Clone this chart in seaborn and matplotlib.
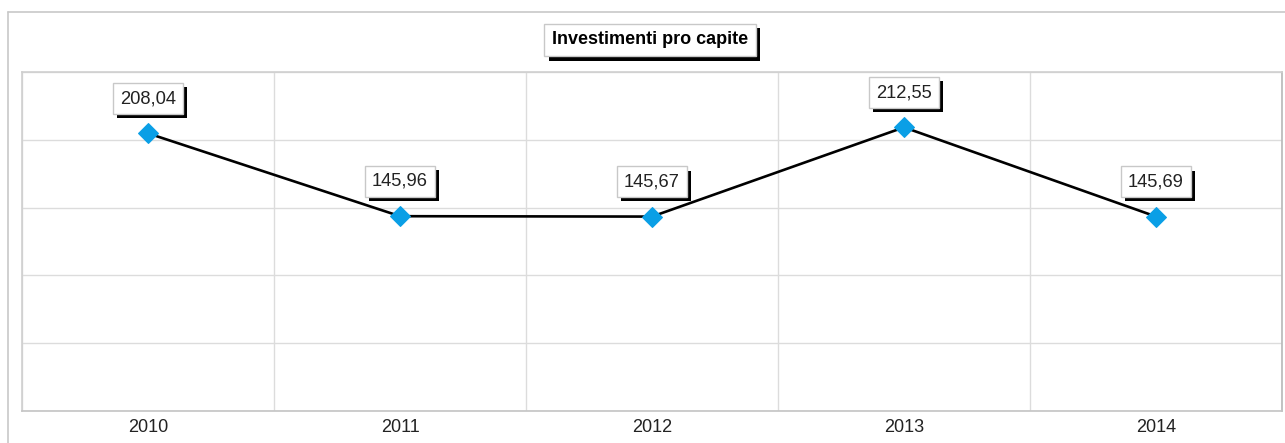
import matplotlib
matplotlib.use("Agg")
import matplotlib.pyplot as plt
from matplotlib.lines import Line2D
from matplotlib.ticker import FixedLocator
import matplotlib.patheffects as pe
import seaborn as sns
import pandas as pd

# data
years = ["2010", "2011", "2012", "2013", "2014"]
values = [208.04, 145.96, 145.67, 212.55, 145.69]
title = "Investimenti pro capite"

W, H = 1285, 443
sns.set_style("white")
plt.rcParams['font.family'] = ['Liberation Sans', 'DejaVu Sans']

df = pd.DataFrame({"anno": years, "valore": values})

fig = plt.figure(figsize=(W / 100, H / 100), dpi=100)
ax = fig.add_axes([22 / W, (H - 411) / H, 1260 / W, 339 / H])

grid_col = "#dcdcdc"
sns.lineplot(data=df, x="anno", y="valore", ax=ax, color="black", linewidth=1.9,
             marker="D", markersize=10, markerfacecolor="#0A9FE6",
             markeredgecolor="#0A9FE6", zorder=3)

ymax = 254
ax.set_xlim(-0.5, len(years) - 0.5)
ax.set_ylim(0, ymax)
ax.set_yticks([ymax * k / 5 for k in range(6)])
ax.set_yticklabels([])
ax.tick_params(axis='y', length=0)
ax.xaxis.set_minor_locator(FixedLocator([i - 0.5 for i in range(len(years) + 1)]))
ax.tick_params(axis='x', which='major', length=0, pad=6, labelsize=13, colors="#222222")
ax.tick_params(axis='x', which='minor', length=11.5, width=1, color=grid_col, direction='out')
ax.grid(True, axis='y', which='major', color=grid_col, linewidth=1)
ax.grid(True, axis='x', which='minor', color=grid_col, linewidth=1)
ax.set_xlabel("")
ax.set_ylabel("")
for side in ['left', 'top']:
    ax.spines[side].set_color("#cfcfcf")
ax.spines['right'].set_color("#b8b8b8")
ax.spines['bottom'].set_color("#c4c4c4")
for sp in ax.spines.values():
    sp.set_linewidth(1.2)


def shadow_box(t, off):
    # white box with a solid black drop shadow, like the original
    t.get_bbox_patch().set_path_effects([
        pe.SimplePatchShadow(offset=(off, -off), shadow_rgbFace="black", alpha=1),
        pe.Normal()])


# value labels
for i, v in enumerate(values):
    txt = f"{v:.2f}".replace(".", ",")
    t = ax.annotate(txt, (i, v), xytext=(0, 25), textcoords="offset points",
                    ha="center", va="center", fontsize=13.2, color="#222222", zorder=5,
                    bbox=dict(boxstyle="square,pad=0.38", fc="white", ec="#c8c8c8", lw=1))
    shadow_box(t, 3)

# title box
t = fig.text(650 / W, 1 - 40 / H, title, ha="center", va="center", fontsize=13,
             fontweight="bold", color="black",
             bbox=dict(boxstyle="square,pad=0.42", fc="white", ec="#c8c8c8", lw=1))
shadow_box(t, 3.2)

# outer frame (left and top edges visible)
fig.add_artist(Line2D([8 / W, 8 / W], [0, 1 - 12 / H], color="#c8c8c8", lw=1.2))
fig.add_artist(Line2D([8 / W, 1], [1 - 12 / H, 1 - 12 / H], color="#c8c8c8", lw=1.2))

fig.savefig("out.png", dpi=100)
